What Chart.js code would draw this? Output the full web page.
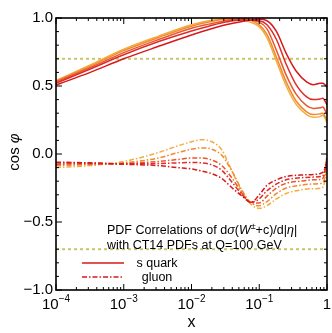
<!DOCTYPE html>
<html><head><meta charset="utf-8">
<script src="https://cdn.jsdelivr.net/npm/chart.js@4"></script>
<style>html,body{margin:0;padding:0;background:#fff}</style>
</head><body>
<canvas id="c" width="332" height="333"></canvas>
<script>
// ---- data ----
const xSolid = [1e-4, 3.2e-4, 1e-3, 3.2e-3, 0.01, 0.018, 0.032, 0.056, 0.1, 0.13, 0.18, 0.25, 0.35, 0.5, 0.63, 0.79, 0.87, 0.93, 1];
const sQuark0 = [0.507, 0.60, 0.70, 0.79, 0.875, 0.915, 0.95, 0.975, 0.99, 0.98, 0.90, 0.74, 0.61, 0.53, 0.51, 0.52, 0.52, 0.51, 0.49];
const sQuark1 = [0.52, 0.625, 0.73, 0.825, 0.905, 0.94, 0.97, 0.985, 0.98, 0.95, 0.84, 0.66, 0.51, 0.42, 0.40, 0.405, 0.41, 0.39, 0.36];
const sQuark2 = [0.53, 0.635, 0.745, 0.84, 0.925, 0.955, 0.98, 0.99, 0.97, 0.92, 0.76, 0.58, 0.44, 0.355, 0.335, 0.34, 0.345, 0.325, 0.29];
const sQuark3 = [0.535, 0.645, 0.76, 0.855, 0.94, 0.97, 0.99, 0.99, 0.95, 0.88, 0.71, 0.53, 0.39, 0.31, 0.29, 0.295, 0.30, 0.28, 0.245];
const sQuark4 = [0.54, 0.655, 0.77, 0.865, 0.95, 0.98, 0.995, 0.985, 0.935, 0.855, 0.68, 0.50, 0.365, 0.29, 0.27, 0.275, 0.285, 0.265, 0.23];

const xGluon = [1e-4, 3.2e-4, 1e-3, 3.2e-3, 6.3e-3, 0.01, 0.014, 0.02, 0.028, 0.04, 0.056, 0.076, 0.1, 0.13, 0.18, 0.25, 0.4, 0.63, 0.83, 0.91, 0.966, 1];
const gluon0 = [-0.06, -0.065, -0.075, -0.085, -0.10, -0.11, -0.125, -0.145, -0.18, -0.25, -0.31, -0.355, -0.30, -0.23, -0.19, -0.165, -0.155, -0.15, -0.14, -0.12, -0.07, -0.01];
const gluon1 = [-0.065, -0.068, -0.072, -0.07, -0.065, -0.062, -0.065, -0.08, -0.12, -0.21, -0.30, -0.355, -0.33, -0.27, -0.22, -0.19, -0.175, -0.17, -0.165, -0.14, -0.08, -0.02];
const gluon2 = [-0.075, -0.073, -0.07, -0.055, -0.04, -0.03, -0.03, -0.045, -0.085, -0.18, -0.29, -0.36, -0.36, -0.31, -0.25, -0.215, -0.20, -0.19, -0.185, -0.16, -0.10, -0.03];
const gluon3 = [-0.085, -0.078, -0.065, -0.03, 0.01, 0.035, 0.045, 0.035, -0.01, -0.13, -0.27, -0.36, -0.38, -0.35, -0.29, -0.25, -0.23, -0.22, -0.215, -0.19, -0.12, -0.04];
const gluon4 = [-0.10, -0.085, -0.055, 0.01, 0.06, 0.09, 0.105, 0.09, 0.03, -0.13, -0.28, -0.37, -0.40, -0.38, -0.33, -0.29, -0.265, -0.255, -0.25, -0.22, -0.14, -0.05];

const refLevels = [0.7, -0.7];
const xRange = [1e-4, 1];
const xTickExponents = [-4, -3, -2, -1, 0];
const yTickLabels = {'1': '1.0', '0.5': '0.5', '0': '0.0', '-0.5': '\u22120.5', '-1': '\u22121.0'};
const legendLabels = ['s quark', 'gluon'];

// ---- styles ----
const lineColors = ['#d7191c', '#df2b2b', '#e8582f', '#ef8a30', '#f3ad3e'];
const FONT = '"Liberation Sans", Arial, Helvetica, sans-serif';
const DASHDOT = [5, 2, 1.5, 2];

const pts = (xs, ys) => xs.map((x, i) => ({x, y: ys[i]}));
const datasets = [];
[sQuark0, sQuark1, sQuark2, sQuark3, sQuark4].forEach((d, i) => datasets.push({
  data: pts(xSolid, d), borderColor: lineColors[i], borderWidth: 1.5, pointRadius: 0,
  cubicInterpolationMode: 'monotone', fill: false
}));
[gluon0, gluon1, gluon2, gluon3, gluon4].forEach((d, i) => datasets.push({
  data: pts(xGluon, d), borderColor: lineColors[i], borderWidth: 1.5, pointRadius: 0,
  borderDash: DASHDOT, cubicInterpolationMode: 'monotone', fill: false
}));
refLevels.forEach(v => datasets.push({
  data: [{x: xRange[0], y: v}, {x: xRange[1], y: v}], borderColor: '#c8c66c', borderWidth: 2,
  borderDash: [3, 3], pointRadius: 0, fill: false
}));

function drawRich(ctx, segs, x, y, align) {
  let w = 0;
  segs.forEach(s => { ctx.font = s.f; w += ctx.measureText(s.t).width; });
  let cx = align === 'center' ? x - w / 2 : x;
  segs.forEach(s => { ctx.font = s.f; ctx.fillText(s.t, cx, y + (s.dy || 0)); cx += ctx.measureText(s.t).width; });
}

const decor = {
  id: 'decor',
  afterDatasetsDraw(chart) {
    const {ctx, chartArea: a, scales: {x, y}} = chart;
    ctx.save();
    ctx.strokeStyle = '#000';
    ctx.lineWidth = 1;
    const seg = (x1, y1, x2, y2) => { ctx.beginPath(); ctx.moveTo(x1, y1); ctx.lineTo(x2, y2); ctx.stroke(); };
    for (let e = -4; e <= 0; e++) {
      for (let k = 1; k <= 9; k++) {
        const v = k * Math.pow(10, e);
        if (v > 1.0001) break;
        const px = x.getPixelForValue(v);
        const L = k === 1 ? 6 : 3;
        seg(px, a.top, px, a.top + L);
        seg(px, a.bottom, px, a.bottom - L);
      }
    }
    for (let i = -10; i <= 10; i++) {
      const py = y.getPixelForValue(i / 10);
      const L = i % 5 === 0 ? 6 : 3;
      seg(a.left, py, a.left + L, py);
      seg(a.right, py, a.right - L, py);
    }
    ctx.lineWidth = 1.6;
    ctx.strokeRect(a.left, a.top, a.right - a.left, a.bottom - a.top);

    // x tick labels with superscript exponents
    ctx.fillStyle = '#000';
    ctx.textBaseline = 'alphabetic';
    xTickExponents.forEach(e => {
      const px = x.getPixelForValue(Math.pow(10, e));
      if (e === 0) {
        drawRich(ctx, [{t: '1', f: '15px ' + FONT}], px, 309, 'center');
      } else {
        drawRich(ctx, [{t: '10', f: '15px ' + FONT}, {t: '\u2212' + Math.abs(e), f: '10px ' + FONT, dy: -7}], px, 309, 'center');
      }
    });
    // x title
    ctx.font = '16px ' + FONT;
    ctx.textAlign = 'center';
    ctx.fillText('x', (a.left + a.right) / 2, 327);
    ctx.textAlign = 'left';
    // y title rotated
    ctx.save();
    ctx.translate(19, (a.top + a.bottom) / 2 - 2);
    ctx.rotate(-Math.PI / 2);
    drawRich(ctx, [{t: 'cos ', f: '15px ' + FONT}, {t: '\u03c6', f: 'italic 15px ' + FONT}], 0, 0, 'center');
    ctx.restore();

    // annotation text
    const F = '12.5px ' + FONT, FI = 'italic 12.5px ' + FONT, FS = '9px ' + FONT;
    drawRich(ctx, [{t: 'PDF Correlations of d', f: F}, {t: '\u03c3', f: FI}, {t: '(', f: F}, {t: 'W', f: FI},
      {t: '\u00b1', f: FS, dy: -5}, {t: '+c)/d|', f: F}, {t: '\u03b7', f: FI}, {t: '|', f: F}], 107, 234, 'left');
    drawRich(ctx, [{t: 'with CT14 PDFs at Q=100 GeV', f: F}], 107, 249, 'left');

    // legend
    ctx.strokeStyle = lineColors[0];
    ctx.lineWidth = 1.5;
    seg(82, 263, 124, 263);
    ctx.setLineDash(DASHDOT);
    seg(82, 277, 124, 277);
    ctx.setLineDash([]);
    drawRich(ctx, [{t: legendLabels[0], f: F}], 157, 267, 'center');
    drawRich(ctx, [{t: legendLabels[1], f: F}], 157, 281, 'center');
    ctx.restore();
  }
};

new Chart(document.getElementById('c'), {
  type: 'line',
  data: {datasets},
  options: {
    responsive: false, animation: false, devicePixelRatio: 1,
    layout: {padding: {top: 18, right: 5, left: 0, bottom: 0}},
    plugins: {legend: {display: false}, tooltip: {enabled: false}},
    scales: {
      x: {type: 'logarithmic', min: xRange[0], max: xRange[1],
        ticks: {display: false}, grid: {display: false, drawTicks: false}, border: {display: false},
        afterFit: s => { s.height = 43; }},
      y: {min: -1, max: 1,
        ticks: {stepSize: 0.5, color: '#000', padding: 3, font: {family: FONT, size: 15},
          callback: v => yTickLabels[String(v)] ?? ''},
        grid: {display: false, drawTicks: false}, border: {display: false},
        afterFit: s => { s.width = 56; }}
    }
  },
  plugins: [decor]
});
</script>
</body></html>
